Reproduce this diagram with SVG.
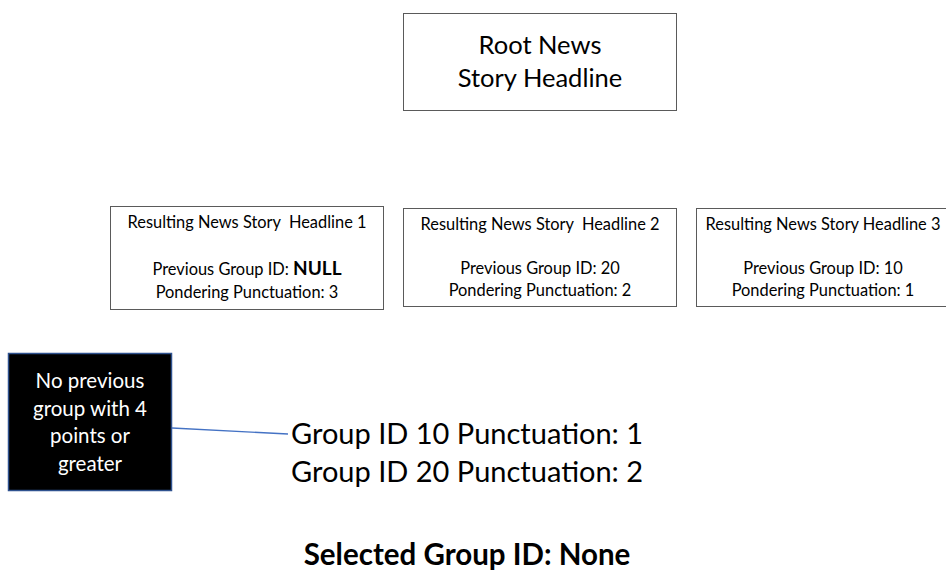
<svg xmlns="http://www.w3.org/2000/svg" width="946" height="570" viewBox="0 0 946 570">
  <style>
    text { font-family: Lato, "Open Sans", "Liberation Sans", sans-serif; fill: #000; text-anchor: middle; }
    .box { fill: #fff; stroke: #5a5a5a; stroke-width: 1; }
    .root { font-size: 25.5px; }
    .small { font-size: 16.4px; }
    .note { font-size: 20.5px; fill: #fff; }
    .big { font-size: 29px; text-anchor: start; }
    .result { font-size: 29.5px; font-weight: bold; }
  </style>
  <rect width="946" height="570" fill="#fff"/>

  <g id="root-headline">
    <rect class="box" x="403.5" y="13.5" width="273" height="97"/>
    <text class="root" x="540" y="54">Root News</text>
    <text class="root" x="540" y="87">Story Headline</text>
  </g>

  <g id="headline-1">
    <rect class="box" x="110.5" y="206.5" width="273" height="103"/>
    <text class="small" x="247" y="228">Resulting News Story &#160;Headline 1</text>
    <text class="small" x="247" y="275">Previous Group ID: <tspan font-weight="bold" font-size="19px">NULL</tspan></text>
    <text class="small" x="247" y="298">Pondering Punctuation: 3</text>
  </g>

  <g id="headline-2">
    <rect class="box" x="403.5" y="208.5" width="273" height="98"/>
    <text class="small" x="540" y="230">Resulting News Story &#160;Headline 2</text>
    <text class="small" x="540" y="274">Previous Group ID: 20</text>
    <text class="small" x="540" y="296">Pondering Punctuation: 2</text>
  </g>

  <g id="headline-3">
    <rect class="box" x="696.5" y="208.5" width="260" height="98"/>
    <text class="small" x="823" y="230">Resulting News Story Headline 3</text>
    <text class="small" x="823" y="274">Previous Group ID: 10</text>
    <text class="small" x="823" y="296">Pondering Punctuation: 1</text>
  </g>

  <g id="note">
    <rect x="8.5" y="353.5" width="163" height="137" fill="#000" stroke="#2f528f" stroke-width="1.5"/>
    <text class="note" x="90" y="388">No previous</text>
    <text class="note" x="90" y="416">group with 4</text>
    <text class="note" x="90" y="443">points or</text>
    <text class="note" x="90" y="471">greater</text>
  </g>

  <g id="connectors">
    <line x1="172" y1="428" x2="288" y2="434" stroke="#4472c4" stroke-width="1.3"/>
  </g>

  <g id="group-list">
    <text class="big" x="291" y="444">Group ID 10 Punctuation: 1</text>
    <text class="big" x="291" y="482">Group ID 20 Punctuation: 2</text>
  </g>

  <g id="selection">
    <text class="result" x="467" y="565">Selected Group ID: None</text>
  </g>
</svg>
